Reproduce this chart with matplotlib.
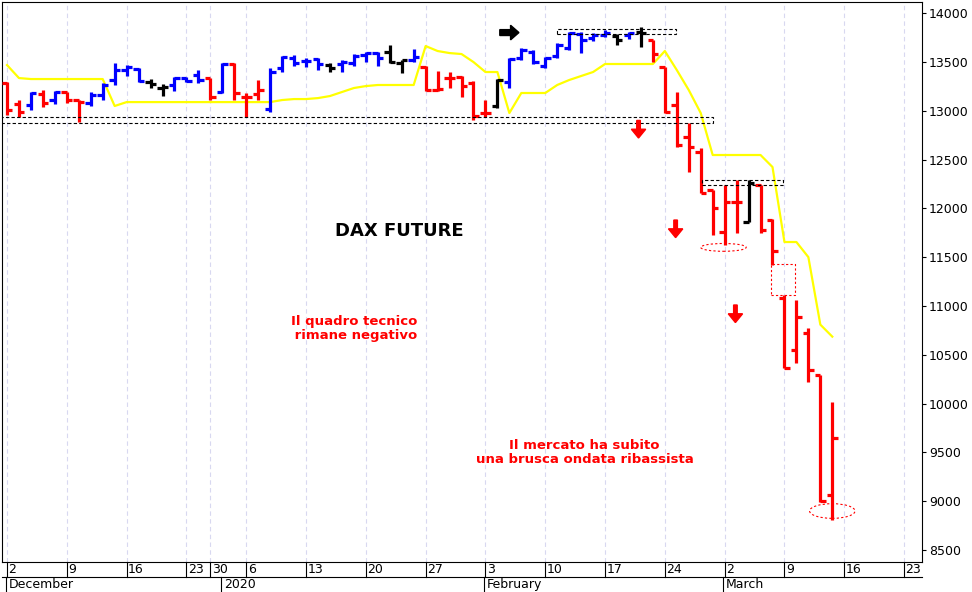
import matplotlib
matplotlib.use("Agg")
import matplotlib.pyplot as plt
from matplotlib.patches import Rectangle, Ellipse, FancyArrow
import matplotlib.transforms as mtrans

opens = [13283,13068,13058,13170,13109,13191,13109,13078,13160,13314,13416,13426,13293,13232,13263,13334,13365,13334,13191,13478,
         13140,13170,13017,13437,13539,13508,13529,13467,13478,13488,13570,13590,13601,13488,13519,13447,13211,13334,13345,13283,
         12976,13048,13293,13539,13601,13457,13560,13641,13785,13744,13775,13764,13775,13805,13723,13447,13058,12730,12577,12188,
         11757,12065,11860,12239,11880,11081,10549,10723,10293,9064]
highs = [13293,13109,13191,13211,13201,13191,13109,13191,13283,13488,13467,13437,13324,13273,13345,13345,13416,13334,13488,13488,
         13181,13314,13437,13560,13570,13539,13539,13488,13519,13580,13601,13601,13672,13519,13631,13457,13406,13396,13355,13304,
         13109,13324,13539,13641,13621,13549,13693,13805,13805,13795,13826,13785,13805,13857,13723,13447,13191,12874,12618,12188,
         12239,12290,12290,12239,11890,11112,11061,10774,10293,10017]
lows = [12955,12935,13007,13037,13068,13078,12884,13048,13109,13263,13355,13293,13232,13150,13201,13293,13283,13109,13181,13109,
        12935,13109,12986,13396,13457,13447,13416,13396,13396,13457,13498,13457,13488,13385,13498,13201,13201,13232,13140,12904,
        12935,13027,13232,13519,13478,13437,13539,13621,13590,13713,13754,13672,13734,13652,13498,12976,12631,12372,12157,11727,
        11624,11747,11860,11747,11420,10365,10416,10221,8993,8808]
closes = [13007,12986,13181,13078,13191,13109,13088,13160,13263,13416,13447,13304,13273,13242,13334,13304,13314,13140,13478,13181,
          13140,13211,13396,13549,13488,13508,13478,13437,13498,13560,13590,13539,13498,13519,13549,13211,13222,13334,13252,12945,
          12976,13314,13529,13621,13498,13539,13672,13795,13723,13775,13795,13723,13795,13795,13580,12986,12651,12631,12157,12003,
          12065,12065,12259,11778,11563,10365,10887,10344,9003,9648]
colors = list("rrbrbrrbbbbbkkbbbrbrrrbbbbbkbbbbkkbrrrrr"
              "rkbbbbbbbbbkbkrrrrrrrrkrrrrrrr")
stop_line = [13467,13334,13324,13324,13324,13324,13324,13324,13324,13048,13088,13088,13088,13088,13088,13088,13088,13088,13088,13088,
             13088,13088,13088,13109,13119,13119,13129,13150,13191,13232,13252,13263,13263,13263,13263,13662,13611,13590,13580,13498,
             13396,13396,12976,13181,13181,13181,13263,13314,13355,13396,13478,13478,13478,13478,13478,13611,13416,13211,12976,12546,
             12546,12546,12546,12546,12423,11655,11655,11500,10809,10686]
day_ticks = [0,5,10,15,17,20,25,30,35,40,45,50,55,60,65,70,75]
day_labels = ["2","9","16","23","30","6","13","20","27","3","10","17","24","2","9","16","23"]
month_pos = [0,18,40,60]
month_labels = ["December","2020","February","March"]

cmap = {"r": "#ff0000", "b": "#0000ff", "k": "#000000"}
fig = plt.figure(figsize=(9.72, 5.92), dpi=100)
ax = fig.add_axes([2/972, 30/592, 920/972, 560/592])
ax.set_xlim(-0.42, 76.5)
ax.set_ylim(8378, 14113)

for t in day_ticks:
    ax.axvline(t, color="#d8d8f0", lw=0.8, ls=(0, (4, 3)), zorder=0)

idx = list(range(len(opens)))
c = [cmap[k] for k in colors]
ax.vlines(idx, lows, highs, colors=c, lw=2.3, zorder=3)
ax.hlines(opens, [i - 0.45 for i in idx], idx, colors=c, lw=2.3, zorder=3)
ax.hlines(closes, idx, [i + 0.45 for i in idx], colors=c, lw=2.3, zorder=3)
ax.plot(idx, stop_line, color="#ffff00", lw=1.6, zorder=2)

ax.add_patch(Rectangle((-0.5, 12874), 59.5, 61, fill=False, ls=(0, (3, 2)), lw=0.8, ec="black", zorder=4))
ax.add_patch(Rectangle((46, 13785), 9.9, 51, fill=False, ls=(0, (3, 2)), lw=0.8, ec="black", zorder=4))
ax.add_patch(Rectangle((58.1, 12239), 6.8, 51, fill=False, ls=(0, (3, 2)), lw=0.8, ec="black", zorder=4))
ax.add_patch(Rectangle((63.9, 11112), 2, 318, fill=False, ls=(0, (2, 2)), lw=0.8, ec="red", zorder=4))
ax.add_patch(Ellipse((59.9, 11600), 3.8, 80, fill=False, ls=(0, (2, 2)), lw=0.8, ec="red", zorder=4))
ax.add_patch(Ellipse((69, 8900), 3.8, 150, fill=False, ls=(0, (2, 2)), lw=0.8, ec="red", zorder=4))

ax.add_patch(FancyArrow(41.2, 13800, 0.9, 0, width=60, head_width=150, head_length=0.7, color="black", zorder=5))
for (xa, ya) in [(52.8, 12900), (55.9, 11880), (60.9, 11010)]:
    ax.add_patch(FancyArrow(xa, ya, 0, -90, width=0.3, head_width=1.2, head_length=90, color="red", zorder=5))

ax.text(32.8, 11770, "DAX FUTURE", fontsize=13, fontweight="bold", ha="center", va="center")
ax.text(29, 10770, "Il quadro tecnico\n rimane negativo", fontsize=9.5, fontweight="bold", color="red",
        ha="center", va="center", linespacing=1.1)
ax.text(48.3, 9500, "Il mercato ha subito\nuna brusca ondata ribassista", fontsize=9.5, fontweight="bold",
        color="red", ha="center", va="center", linespacing=1.1)

ax.yaxis.tick_right()
ax.set_yticks(range(8500, 14001, 500))
ax.tick_params(axis="y", labelsize=9, length=3, pad=2)
ax.set_xticks([])
tr = mtrans.blended_transform_factory(ax.transData, ax.transAxes)
row = 15 / 560
ax.plot([-0.42, 76.5], [-row, -row], transform=tr, color="black", lw=0.8, clip_on=False)
for t, l in zip(day_ticks, day_labels):
    ax.text(t + 0.12, -row / 2, l, transform=tr, ha="left", va="center", fontsize=9)
    ax.plot([t, t], [0, -row], transform=tr, color="black", lw=0.8, clip_on=False)
for t, l in zip(month_pos, month_labels):
    ax.text(t + 0.12, -1.5 * row, l, transform=tr, ha="left", va="center", fontsize=9)
    ax.plot([t - 0.1, t - 0.1], [-row, -2.2 * row], transform=tr, color="black", lw=0.8, clip_on=False)
for s in ax.spines.values():
    s.set_linewidth(0.8)
fig.savefig("out.png", dpi=100)
